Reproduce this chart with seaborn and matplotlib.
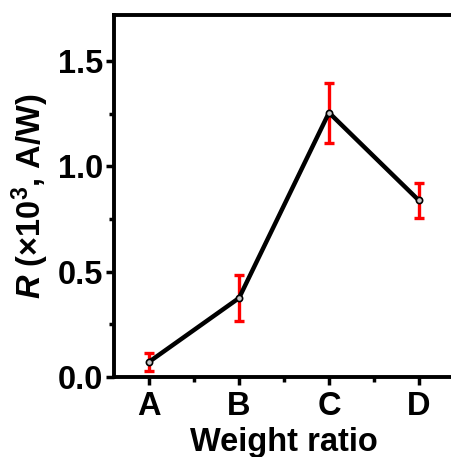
import numpy as np
import pandas as pd
import matplotlib
matplotlib.use("Agg")
import matplotlib.pyplot as plt
import seaborn as sns
from matplotlib.ticker import MultipleLocator, AutoMinorLocator

# data
ratios = ["A", "B", "C", "D"]
resp = [0.072, 0.375, 1.255, 0.838]
err = [0.043, 0.108, 0.142, 0.085]

sns.set_style("ticks")
plt.rcParams['font.family'] = ['Liberation Sans', 'DejaVu Sans']
plt.rcParams['font.weight'] = 'bold'
plt.rcParams['mathtext.fontset'] = 'custom'
plt.rcParams['mathtext.rm'] = 'Liberation Sans:bold'
plt.rcParams['mathtext.it'] = 'Liberation Sans:bold:italic'
for k in ['text.color', 'axes.labelcolor', 'xtick.color', 'ytick.color', 'axes.edgecolor']:
    plt.rcParams[k] = 'black'

df = pd.DataFrame({"pos": np.arange(len(ratios)), "R": resp, "err": err})

fig = plt.figure(figsize=(4.51, 4.57), dpi=100)
ax = fig.add_axes([0.2528, 0.175, 0.7539, 0.792])

ax.errorbar(df["pos"], df["R"], yerr=df["err"], fmt="none", ecolor="red",
            elinewidth=2.4, capsize=3.5, capthick=2.4, zorder=2)
sns.lineplot(data=df, x="pos", y="R", color="black", linewidth=3.2,
             marker="o", markersize=4.5, markerfacecolor="#c8c8c8",
             markeredgecolor="black", markeredgewidth=1.2, ax=ax, zorder=3)

ax.set_xlim(-0.39, 3.39)
ax.set_ylim(0, 1.718)
ax.set_xticks(df["pos"])
ax.set_xticklabels(ratios)
ax.xaxis.set_minor_locator(AutoMinorLocator(2))
ax.yaxis.set_major_locator(MultipleLocator(0.5))
ax.yaxis.set_minor_locator(AutoMinorLocator(2))

for s in ax.spines.values():
    s.set_linewidth(2.8)
ax.tick_params(which="major", direction="out", length=6, width=2.5,
               labelsize=23.5, pad=1.5)
ax.tick_params(axis="x", which="major", pad=4)
ax.tick_params(which="minor", direction="out", length=3.5, width=2.5)

ax.set_xlabel("Weight ratio", fontsize=23.5, fontweight="bold", labelpad=4)
ax.set_ylabel(r"$R$ (×10$^3$, A/W)", fontsize=23.5, fontweight="bold", labelpad=5)

fig.savefig("out.png", dpi=100)
